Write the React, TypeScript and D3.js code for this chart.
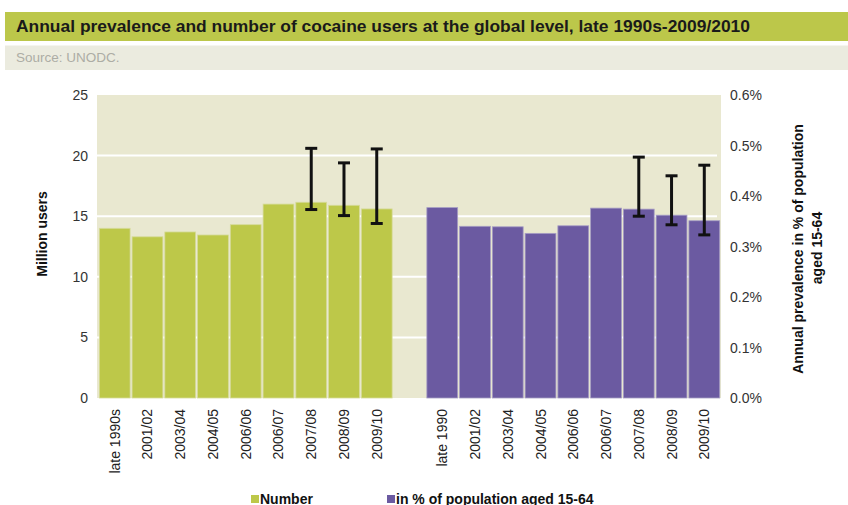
import { useEffect, useRef } from 'react'
import * as d3 from 'd3'

const numberLabels = ['late 1990s', '2001/02', '2003/04', '2004/05', '2006/06', '2006/07', '2007/08', '2008/09', '2009/10']
const prevalenceLabels = ['late 1990', '2001/02', '2003/04', '2004/05', '2006/06', '2006/07', '2007/08', '2008/09', '2009/10']

// million users
const numberValues = [14.0, 13.3, 13.7, 13.45, 14.3, 16.0, 16.15, 15.9, 15.6]
const numberLow = [null, null, null, null, null, null, 15.55, 15.05, 14.4]
const numberHigh = [null, null, null, null, null, null, 20.6, 19.4, 20.55]

// % of population aged 15-64
const prevalenceValues = [0.377, 0.34, 0.339, 0.326, 0.341, 0.376, 0.374, 0.362, 0.351]
const prevalenceLow = [null, null, null, null, null, null, 0.36, 0.343, 0.323]
const prevalenceHigh = [null, null, null, null, null, null, 0.477, 0.44, 0.461]

const leftTicks = [0, 5, 10, 15, 20, 25]
const rightTicks = [0, 0.1, 0.2, 0.3, 0.4, 0.5, 0.6]

const GREEN = '#bdc849'
const PURPLE = '#6b5aa1'
const PLOT_BG = '#e9e8d0'

type Row = { key: string; label: string; value: number; low: number | null; high: number | null; side: 'n' | 'p' }

export default function App() {
  const svgRef = useRef<SVGSVGElement>(null)

  useEffect(() => {
    if (!svgRef.current) return
    const svg = d3.select(svgRef.current)
    svg.selectAll('*').remove()

    const font = 'Liberation Sans, Arial, sans-serif'
    const W = 848
    const H = 505
    const plot = { left: 97, right: 721, top: 95, bottom: 398 }

    // title + source bands
    svg.append('rect').attr('x', 5).attr('y', 12).attr('width', W - 5).attr('height', 29).attr('fill', '#bcc74a')
    svg.append('text').attr('x', 16).attr('y', 31.5).attr('font-family', font).attr('font-size', 16)
      .attr('font-weight', 'bold').attr('fill', '#1a1a1a')
      .attr('textLength', 734).attr('lengthAdjust', 'spacingAndGlyphs')
      .text('Annual prevalence and number of cocaine users at the global level, late 1990s-2009/2010')
    svg.append('rect').attr('x', 5).attr('y', 45.5).attr('width', W - 5).attr('height', 24.5).attr('fill', '#ebebdf')
    svg.append('text').attr('x', 16).attr('y', 62).attr('font-family', font).attr('font-size', 13.5)
      .attr('fill', '#adada5').text('Source: UNODC.')

    const rows: Row[] = [
      ...numberLabels.map((label, i) => ({ key: 'n' + i, label, value: numberValues[i], low: numberLow[i], high: numberHigh[i], side: 'n' as const })),
      ...prevalenceLabels.map((label, i) => ({ key: 'p' + i, label, value: prevalenceValues[i], low: prevalenceLow[i], high: prevalenceHigh[i], side: 'p' as const })),
    ]
    const domain = [...rows.slice(0, 9).map(r => r.key), 'gap', ...rows.slice(9).map(r => r.key)]

    const x = d3.scaleBand<string>().domain(domain).range([98, 721]).paddingInner(0.06).paddingOuter(0.04)
    const yLeft = d3.scaleLinear().domain([0, 25]).range([plot.bottom, plot.top])
    const yRight = d3.scaleLinear().domain([0, 0.6]).range([plot.bottom, plot.top])
    const yOf = (r: Row) => (r.side === 'n' ? yLeft : yRight)

    svg.append('rect').attr('x', plot.left).attr('y', plot.top)
      .attr('width', plot.right - plot.left).attr('height', plot.bottom - plot.top).attr('fill', PLOT_BG)

    // gridlines (behind bars)
    svg.append('g').selectAll('line').data([5, 10, 15, 20]).enter().append('line')
      .attr('x1', plot.left).attr('x2', plot.right - 4)
      .attr('y1', d => yLeft(d)).attr('y2', d => yLeft(d))
      .attr('stroke', '#ffffff').attr('stroke-width', 2)

    // bars
    svg.append('g').selectAll('rect').data(rows).enter().append('rect')
      .attr('x', d => x(d.key)!)
      .attr('width', x.bandwidth())
      .attr('y', d => yOf(d)(d.value))
      .attr('height', d => plot.bottom - yOf(d)(d.value))
      .attr('fill', d => (d.side === 'n' ? GREEN : PURPLE))
      .attr('stroke', d => (d.side === 'n' ? '#d6db9a' : '#a69dc4'))
      .attr('stroke-width', 0.8)

    // error bars
    const errs = rows.filter(r => r.low != null && r.high != null)
    const eg = svg.append('g').attr('stroke', '#111').attr('stroke-width', 3)
    errs.forEach(r => {
      const cx = x(r.key)! + x.bandwidth() / 2
      const y = yOf(r)
      eg.append('line').attr('x1', cx).attr('x2', cx).attr('y1', y(r.high!)).attr('y2', y(r.low!))
      eg.append('line').attr('x1', cx - 6).attr('x2', cx + 6).attr('y1', y(r.high!)).attr('y2', y(r.high!))
      eg.append('line').attr('x1', cx - 6).attr('x2', cx + 6).attr('y1', y(r.low!)).attr('y2', y(r.low!))
    })

    // left axis labels
    svg.append('g').selectAll('text').data(leftTicks).enter().append('text')
      .attr('x', 88).attr('y', d => yLeft(d) + 5)
      .attr('text-anchor', 'end').attr('font-family', font).attr('font-size', 14).attr('fill', '#333')
      .text(d => String(d))

    // right axis labels
    svg.append('g').selectAll('text').data(rightTicks).enter().append('text')
      .attr('x', 730).attr('y', d => yRight(d) + 5)
      .attr('font-family', font).attr('font-size', 14).attr('fill', '#333')
      .text(d => d3.format('.1f')(d) + '%')

    // x labels
    svg.append('g').selectAll('text').data(rows).enter().append('text')
      .attr('transform', d => `translate(${x(d.key)! + x.bandwidth() / 2 + 5},409) rotate(-90)`)
      .attr('text-anchor', 'end').attr('font-family', font).attr('font-size', 14).attr('fill', '#222')
      .text(d => d.label)

    // axis titles
    svg.append('text').attr('transform', 'translate(47,234) rotate(-90)')
      .attr('text-anchor', 'middle').attr('font-family', font).attr('font-size', 14)
      .attr('font-weight', 'bold').attr('fill', '#111').text('Million users')
    svg.append('text').attr('transform', 'translate(803,249) rotate(-90)')
      .attr('text-anchor', 'middle').attr('font-family', font).attr('font-size', 14)
      .attr('font-weight', 'bold').attr('fill', '#111').text('Annual prevalence in % of population')
    svg.append('text').attr('transform', 'translate(822,248) rotate(-90)')
      .attr('text-anchor', 'middle').attr('font-family', font).attr('font-size', 14)
      .attr('font-weight', 'bold').attr('fill', '#111').text('aged 15-64')

    // legend
    const legend = [
      { label: 'Number', color: GREEN, x: 251 },
      { label: 'in % of population aged 15-64', color: PURPLE, x: 387 },
    ]
    const lg = svg.append('g').selectAll('g').data(legend).enter().append('g')
      .attr('transform', d => `translate(${d.x},0)`)
    lg.append('rect').attr('x', 0).attr('y', 495).attr('width', 8).attr('height', 8).attr('fill', d => d.color)
    lg.append('text').attr('x', 9).attr('y', 503.5).attr('font-family', font).attr('font-size', 14)
      .attr('font-weight', 'bold').attr('fill', '#111').text(d => d.label)

    svg.attr('width', W).attr('height', H)
  }, [])

  return (
    <div style={{ position: 'absolute', left: 0, top: 0, background: '#fff' }}>
      <svg ref={svgRef} width={848} height={505} style={{ display: 'block' }} />
    </div>
  )
}
